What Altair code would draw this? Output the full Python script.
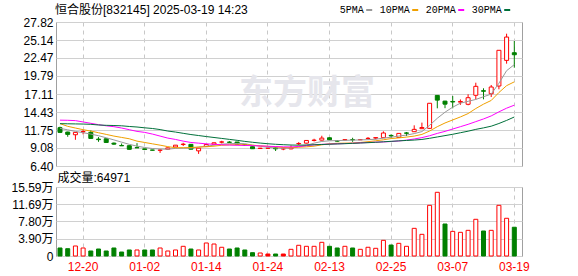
import altair as alt
import pandas as pd

title_text = "恒合股份[832145] 2025-03-19 14:23"
volume_text = "成交量:64971"
watermark_text = "东方财富"

dates = ["12-17", "12-18", "12-19", "12-20", "12-23", "12-24", "12-25", "12-26", "12-27", "12-30", "12-31",
         "01-02", "01-03", "01-06", "01-07", "01-08", "01-09", "01-10", "01-13", "01-14", "01-15", "01-16",
         "01-17", "01-20", "01-21", "01-22", "01-23", "01-24", "01-27",
         "02-05", "02-06", "02-07", "02-10", "02-11", "02-12", "02-13", "02-14", "02-17", "02-18", "02-19",
         "02-20", "02-21", "02-24", "02-25", "02-26", "02-27", "02-28",
         "03-03", "03-04", "03-05", "03-06", "03-07", "03-10", "03-11", "03-12", "03-13", "03-14", "03-17",
         "03-18", "03-19"]
tick_dates = ["12-20", "01-02", "01-14", "01-24", "02-13", "02-25", "03-07", "03-19"]
price_ticks = [6.40, 9.08, 11.75, 14.43, 17.11, 19.79, 22.47, 25.14, 27.82]
volume_ticks = [0, 39000, 78000, 116900, 155900]

open_ = [12.10, 11.45, 11.05, 11.48, 11.40, 10.40, 10.45, 9.80, 9.45, 9.42,
         9.14, 8.95, 8.78, 8.74, 8.90, 9.23, 9.60, 9.62, 8.65, 9.30,
         9.65, 9.95, 9.95, 9.97, 9.60, 9.27, 9.00, 9.05, 9.10, 8.95,
         8.95, 9.70, 9.80, 10.20, 10.25, 10.60, 10.15, 10.28, 10.33, 10.30,
         10.48, 10.55, 10.61, 10.95, 10.65, 11.32, 11.50, 11.95, 12.00, 16.90,
         16.05, 16.00, 15.90, 15.58, 16.92, 17.60, 17.15, 18.30, 22.11, 23.25]
high = [12.25, 11.50, 11.42, 11.75, 11.70, 10.70, 10.48, 9.90, 9.75, 9.45,
        9.80, 8.96, 8.80, 8.93, 9.15, 9.52, 9.85, 9.65, 9.05, 9.62,
        9.90, 10.15, 10.10, 9.97, 9.62, 9.30, 9.10, 9.10, 9.23, 9.20,
        9.45, 9.95, 10.25, 10.45, 10.90, 10.65, 10.20, 10.40, 10.60, 10.35,
        10.70, 10.65, 11.55, 11.10, 11.30, 11.45, 12.45, 12.85, 15.75, 16.95,
        16.10, 16.81, 16.30, 17.07, 18.79, 17.96, 18.45, 23.61, 26.08, 24.99]
low = [11.30, 10.75, 10.30, 11.10, 10.45, 10.00, 9.85, 9.55, 9.38, 8.85,
       9.08, 8.78, 8.72, 8.35, 8.85, 9.20, 9.37, 8.85, 8.20, 9.25,
       9.60, 9.75, 9.80, 9.60, 9.45, 8.95, 8.95, 8.95, 8.63, 8.75,
       8.88, 9.50, 9.75, 10.05, 10.20, 10.25, 10.00, 10.20, 10.00, 10.28,
       10.35, 10.35, 10.60, 10.60, 10.60, 10.85, 11.45, 11.90, 11.95, 14.98,
       15.00, 14.98, 15.50, 15.43, 16.32, 16.32, 16.66, 17.81, 21.62, 21.02]
close = [11.40, 11.10, 11.40, 11.52, 10.50, 10.32, 9.90, 9.65, 9.40, 8.88,
         9.10, 8.85, 8.75, 8.78, 9.10, 9.50, 9.65, 8.90, 9.05, 9.60,
         9.85, 9.98, 9.92, 9.62, 9.50, 8.97, 9.05, 9.05, 8.95, 8.95,
         9.10, 9.75, 10.20, 10.25, 10.55, 10.30, 10.10, 10.32, 10.30, 10.33,
         10.52, 10.62, 11.31, 10.88, 11.25, 11.27, 11.85, 12.12, 15.73, 16.20,
         15.60, 15.92, 16.00, 16.56, 18.25, 17.52, 18.15, 23.61, 25.58, 22.95]
prev_close_start = 12.20
volume = [18100, 16500, 22600, 18100, 11300, 15800, 11300, 18100, 9000, 13600,
          13600, 13600, 13600, 18100, 11300, 13600, 21900, 15800, 13600, 29400,
          27100, 19700, 15800, 18100, 13600, 7500, 6800, 4500, 4500, 4500,
          15100, 24200, 21900, 21900, 30900, 21900, 18100, 21900, 18100, 15100,
          19700, 17400, 35400, 24800, 28600, 21900, 62500, 49000, 114500, 143900,
          72300, 55700, 53500, 58000, 82900, 56500, 58000, 114500, 85200, 64971]
ma5 = [12.00, 11.78, 11.55, 11.35, 11.15, 10.90, 10.60, 10.28, 9.95, 9.62,
       9.35, 9.15, 9.00, 8.92, 8.90, 9.02, 9.05, 9.05, 9.20, 9.35,
       9.50, 9.65, 9.72, 9.75, 9.72, 9.50, 9.32, 9.18, 9.08, 9.02,
       9.05, 9.25, 9.48, 9.80, 10.05, 10.15, 10.18, 10.22, 10.25, 10.28,
       10.32, 10.38, 10.55, 10.68, 10.85, 11.00, 11.22, 11.52, 12.45, 13.50,
       14.40, 15.15, 15.75, 16.02, 16.30, 16.70, 17.10, 18.70, 20.58, 21.48]
ma10 = [12.70, 12.30, 12.05, 11.80, 11.60, 11.35, 11.10, 10.85, 10.65, 10.45,
        10.10, 9.90, 9.70, 9.50, 9.28, 9.12, 9.12, 9.15, 9.22, 9.26,
        9.35, 9.48, 9.55, 9.57, 9.57, 9.50, 9.40, 9.32, 9.25, 9.15,
        9.12, 9.20, 9.25, 9.35, 9.55, 9.70, 9.78, 9.80, 9.82, 9.90,
        10.02, 10.15, 10.30, 10.48, 10.58, 10.70, 10.85, 11.10, 11.60, 12.25,
        12.80, 13.25, 13.70, 14.20, 14.95, 15.60, 16.15, 17.33, 18.35, 18.92]
ma20 = [13.22, 13.20, 13.15, 12.95, 12.75, 12.55, 12.38, 12.25, 12.05, 11.80,
        11.55, 11.40, 11.15, 10.85, 10.55, 10.35, 10.10, 9.90, 9.80, 9.70,
        9.62, 9.56, 9.52, 9.48, 9.46, 9.43, 9.39, 9.34, 9.29, 9.25,
        9.24, 9.30, 9.42, 9.55, 9.62, 9.66, 9.70, 9.74, 9.78, 9.84,
        9.90, 9.94, 9.98, 10.04, 10.12, 10.25, 10.42, 10.62, 10.90, 11.25,
        11.55, 11.90, 12.25, 12.60, 13.00, 13.40, 13.85, 14.45, 15.00, 15.45]
ma30 = [12.70, 12.68, 12.66, 12.64, 12.60, 12.50, 12.45, 12.42, 12.38, 12.28,
        12.20, 12.08, 11.98, 11.82, 11.60, 11.45, 11.26, 11.08, 10.93, 10.78,
        10.64, 10.50, 10.36, 10.22, 10.06, 9.93, 9.81, 9.71, 9.63, 9.57,
        9.52, 9.50, 9.52, 9.56, 9.60, 9.64, 9.68, 9.72, 9.77, 9.82,
        9.87, 9.93, 10.00, 10.07, 10.14, 10.20, 10.26, 10.35, 10.52, 10.72,
        10.92, 11.12, 11.35, 11.58, 11.85, 12.07, 12.32, 12.72, 13.18, 13.69]
ma_names = ["5PMA", "10PMA", "20PMA", "30PMA"]
ma_colors = ["#999999", "#f0a000", "#ff00ff", "#00703a"]

RED = "#ff0000"
GREEN = "#008000"
WHITE = "#ffffff"

# ---- derived table ----
prev = [prev_close_start] + close[:-1]
cdir, cfill, vstroke, vfill = [], [], [], []
for o, c, p in zip(open_, close, prev):
    if c > o:
        d = "up"
    elif c < o:
        d = "down"
    else:
        d = "up" if c >= p else "down"
    cdir.append(d)
    cfill.append("hollow" if c > o else d)
    if c > p:
        vstroke.append("up"); vfill.append("hollow")
    elif c < p:
        vstroke.append("down"); vfill.append("down")
    else:
        vstroke.append("up"); vfill.append("up")

df = pd.DataFrame({
    "date": dates, "open": open_, "high": high, "low": low, "close": close,
    "volume": volume, "ma5": ma5, "ma10": ma10, "ma20": ma20, "ma30": ma30,
    "cdir": cdir, "cfill": cfill, "vstroke": vstroke, "vfill": vfill,
})

FONT = "Liberation Sans, Noto Sans CJK SC"
W = 466
H_PRICE = 144
H_VOL = 69

xscale = alt.Scale(type="band", domain=dates, paddingInner=0, paddingOuter=0.26, align=0.04)
stroke_scale = alt.Scale(domain=["up", "down"], range=[RED, GREEN])
fill_scale = alt.Scale(domain=["hollow", "up", "down"], range=[WHITE, RED, GREEN])

x_top = alt.X("date:O", scale=xscale, sort=dates,
              axis=alt.Axis(values=tick_dates, labels=False, ticks=False, domain=False,
                            grid=True, gridDash=[4, 4], gridColor="#c8c8c8", bandPosition=0.5,
                            title=None))
x_bot = alt.X("date:O", scale=xscale, sort=dates,
              axis=alt.Axis(values=tick_dates, labelColor=RED, labelFont=FONT, labelFontSize=12,
                            labelAngle=0, ticks=False, domain=False, labelPadding=5,
                            grid=True, gridDash=[4, 4], gridColor="#c8c8c8", bandPosition=0.5,
                            title=None))

pscale = alt.Scale(domain=[6.40, 27.82], nice=False, zero=False)
paxis = alt.Axis(values=price_ticks, format=".2f", grid=True, gridColor="#d0d0d0", ticks=False,
                 domain=False, labelPadding=3, labelFont=FONT, labelFontSize=12,
                 labelColor="#000000", title=None)

base = alt.Chart(df).encode(x=x_top)

layers = []
layers.append(base.mark_rule(strokeWidth=1).encode(
    y=alt.Y("low:Q", scale=pscale, axis=paxis), y2="high:Q",
    stroke=alt.Stroke("cdir:N", scale=stroke_scale, legend=None)))
layers.append(base.mark_bar(width=4, strokeWidth=1).encode(
    y=alt.Y("open:Q", scale=pscale, axis=paxis), y2="close:Q",
    stroke=alt.Stroke("cdir:N", scale=stroke_scale, legend=None),
    fill=alt.Fill("cfill:N", scale=fill_scale, legend=None)))
for field, col in zip(["ma5", "ma10", "ma20", "ma30"], ma_colors):
    layers.append(base.mark_line(color=col, strokeWidth=1).encode(
        y=alt.Y(f"{field}:Q", scale=pscale, axis=paxis)))

one = pd.DataFrame({"t": [0]})
# watermark
layers.insert(0, alt.Chart(one).mark_text(text=watermark_text, font="Noto Sans CJK SC", fontSize=34,
                                          fontWeight="bold", color="#e6e6ec", align="center",
                                          baseline="middle").encode(
    x=alt.value(251), y=alt.value(72)))
# title
layers.append(alt.Chart(one).mark_text(text=title_text, font=FONT, fontSize=12, color="#000000",
                                       align="left", baseline="middle").encode(
    x=alt.value(-1), y=alt.value(-12.5)))
# custom legend: label followed by a colored dash
cursor = 283.7
for name, col in zip(ma_names, ma_colors):
    w = len(name) * 6.0
    layers.append(alt.Chart(one).mark_text(text=name, font="Liberation Mono", fontSize=10,
                                           color="#000000", align="left",
                                           baseline="middle").encode(
        x=alt.value(cursor), y=alt.value(-12)))
    layers.append(alt.Chart(one).mark_rule(color=col, strokeWidth=2).encode(
        x=alt.value(cursor + w + 2.5), x2=alt.value(cursor + w + 8.5), y=alt.value(-12)))
    cursor += w + 16

price = alt.layer(*layers).properties(width=W, height=H_PRICE)

vscale = alt.Scale(domain=[0, 155900], nice=False)
vaxis = alt.Axis(values=volume_ticks,
                 labelExpr="datum.value == 0 ? '0' : format(datum.value / 10000, '.2f') + '万'",
                 grid=True, gridColor="#d0d0d0", ticks=False, domain=False, labelPadding=3,
                 labelFont=FONT, labelFontSize=12, labelColor="#000000", title=None)
vol_bars = alt.Chart(df).mark_bar(width=4, strokeWidth=1).encode(
    x=x_bot,
    y=alt.Y("volume:Q", scale=vscale, axis=vaxis),
    stroke=alt.Stroke("vstroke:N", scale=stroke_scale, legend=None),
    fill=alt.Fill("vfill:N", scale=fill_scale, legend=None))
vol_label = alt.Chart(one).mark_text(text=volume_text, font=FONT, fontSize=12, color="#000000",
                                     align="left", baseline="middle").encode(
    x=alt.value(1.5), y=alt.value(-9))
vol = alt.layer(vol_bars, vol_label).properties(width=W, height=H_VOL)

chart = alt.vconcat(price, vol, spacing=21, bounds="flush").properties(
    padding={"left": 10, "top": 3, "right": 4, "bottom": 2},
    background="#ffffff",
).configure_view(stroke="#a0a0a0", strokeWidth=1)

chart.save("out.html", embed_options={"renderer": "svg", "actions": False})
